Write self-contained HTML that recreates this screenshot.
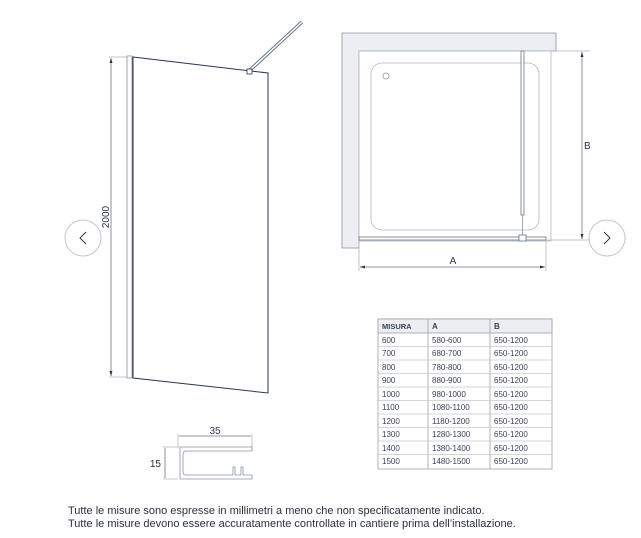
<!DOCTYPE html>
<html><head><style>body{margin:0;background:#fff;}svg{display:block}</style></head><body>
<svg width="641" height="538" viewBox="0 0 641 538" xmlns="http://www.w3.org/2000/svg" font-family="Liberation Sans, sans-serif">
<!-- left nav -->
<circle cx="83" cy="238" r="18" fill="#fff" stroke="#c4c7cf"/>
<polyline points="86,232 80,238 86,244" fill="none" stroke="#2a3550" stroke-width="1"/>
<circle cx="607" cy="238" r="18" fill="#fff" stroke="#c4c7cf"/>
<polyline points="604,232 610,238 604,244" fill="none" stroke="#2a3550" stroke-width="1"/>
<!-- height dim -->
<line x1="109" y1="57" x2="127" y2="57" stroke="#b0b5c2" stroke-width="0.8"/>
<line x1="109" y1="377" x2="127" y2="377" stroke="#b0b5c2" stroke-width="0.8"/>
<line x1="111" y1="58" x2="111" y2="376" stroke="#6a7388" stroke-width="0.8"/>
<polygon points="111,58 109.5,63 112.5,63" fill="#2a3550"/>
<polygon points="111,376 109.5,371 112.5,371" fill="#2a3550"/>
<text x="109" y="217" font-size="10" fill="#2a3550" transform="rotate(-90 109 217)" text-anchor="middle">2000</text>
<!-- profile strip -->
<rect x="127" y="56" width="5" height="322" fill="#fff" stroke="#8a91a3" stroke-width="0.8"/>
<line x1="133" y1="57" x2="133" y2="378" stroke="#2a3550" stroke-width="1.4"/>
<!-- glass -->
<polygon points="133,57 268,73 268,393 133,378" fill="#fff" stroke="#2a3550" stroke-width="1"/>
<!-- rod -->
<line x1="250" y1="70" x2="302" y2="22" stroke="#6a7388" stroke-width="3.5"/>
<line x1="250" y1="70" x2="302" y2="22" stroke="#fff" stroke-width="1.5"/>
<rect x="247" y="69" width="5" height="5" fill="#fff" stroke="#2a3550" stroke-width="0.8"/>
<!-- plan view -->
<path d="M342,33 H556 V51 H359 V248 H342 Z" fill="#eceef2" stroke="#8a91a3" stroke-width="0.8"/>
<rect x="359" y="51" width="192" height="190" fill="#fff" stroke="#b0b5c2" stroke-width="0.8"/>
<rect x="371" y="63" width="168" height="167" rx="11" fill="none" stroke="#b0b5c2" stroke-width="0.8"/>
<circle cx="386" cy="76" r="3" fill="none" stroke="#8a91a3" stroke-width="0.8"/>
<rect x="521" y="51" width="3" height="164" fill="#fff" stroke="#6a7388" stroke-width="0.8"/>
<line x1="522.5" y1="215" x2="522.5" y2="237" stroke="#8a91a3" stroke-width="0.8"/>
<rect x="359" y="237" width="187" height="3" fill="#fff" stroke="#6a7388" stroke-width="0.8"/>
<rect x="519" y="235" width="7" height="6" fill="#fff" stroke="#6a7388" stroke-width="0.8"/>
<line x1="556" y1="51" x2="590" y2="51" stroke="#b0b5c2" stroke-width="0.8"/>
<line x1="546" y1="240" x2="590" y2="240" stroke="#b0b5c2" stroke-width="0.8"/>
<line x1="582" y1="52" x2="582" y2="239" stroke="#6a7388" stroke-width="0.8"/>
<polygon points="582,52 580.5,57 583.5,57" fill="#2a3550"/>
<polygon points="582,239 580.5,234 583.5,234" fill="#2a3550"/>
<text x="584" y="149" font-size="10" fill="#2a3550">B</text>
<line x1="359" y1="241" x2="359" y2="271" stroke="#b0b5c2" stroke-width="0.8"/>
<line x1="546" y1="241" x2="546" y2="271" stroke="#b0b5c2" stroke-width="0.8"/>
<line x1="360" y1="267" x2="545" y2="267" stroke="#6a7388" stroke-width="0.8"/>
<polygon points="360,267 365,265.5 365,268.5" fill="#2a3550"/>
<polygon points="545,267 540,265.5 540,268.5" fill="#2a3550"/>
<text x="453" y="264" font-size="10" fill="#2a3550" text-anchor="middle">A</text>
<!-- profile -->
<line x1="178" y1="434" x2="178" y2="448" stroke="#b0b5c2" stroke-width="0.8"/>
<line x1="252" y1="434" x2="252" y2="448" stroke="#b0b5c2" stroke-width="0.8"/>
<line x1="179" y1="436" x2="251" y2="436" stroke="#6a7388" stroke-width="0.8"/>
<text x="215" y="434" font-size="10" fill="#2a3550" text-anchor="middle">35</text>
<line x1="163" y1="447" x2="178" y2="447" stroke="#b0b5c2" stroke-width="0.8"/>
<line x1="163" y1="479" x2="178" y2="479" stroke="#b0b5c2" stroke-width="0.8"/>
<line x1="165" y1="448" x2="165" y2="478" stroke="#6a7388" stroke-width="0.8"/>
<text x="161" y="467" font-size="10" fill="#2a3550" text-anchor="end">15</text>
<path d="M180,447 H252 V451 H186 Q183,451 183,455 V472 Q183,475 186,475 H233 V467 H235 V475 H241 V467 H243 V475 H252 V479 H180 Z" fill="#fff" stroke="#8a91a3" stroke-width="0.8"/>
<!-- table -->
<g font-size="8" fill="#3a4258">
<rect x="378" y="319" width="174" height="150" fill="#fff" stroke="#9aa0ae" stroke-width="0.8"/>
<rect x="378" y="319" width="174" height="14" fill="#eceef2" stroke="#9aa0ae" stroke-width="0.8"/>
<line x1="428" y1="319" x2="428" y2="469" stroke="#9aa0ae" stroke-width="0.8"/>
<line x1="490" y1="319" x2="490" y2="469" stroke="#9aa0ae" stroke-width="0.8"/>
<g stroke="#c4c7cf" stroke-width="0.8">
<line x1="378" y1="346.5" x2="552" y2="346.5"/><line x1="378" y1="360" x2="552" y2="360"/>
<line x1="378" y1="373.5" x2="552" y2="373.5"/><line x1="378" y1="387" x2="552" y2="387"/>
<line x1="378" y1="400.5" x2="552" y2="400.5"/><line x1="378" y1="414" x2="552" y2="414"/>
<line x1="378" y1="427.5" x2="552" y2="427.5"/><line x1="378" y1="441" x2="552" y2="441"/>
<line x1="378" y1="454.5" x2="552" y2="454.5"/></g>
<text x="382" y="329" font-weight="bold" font-size="7.5">MISURA</text><text x="432" y="329" font-weight="bold">A</text><text x="494" y="329" font-weight="bold">B</text>
<text x="382" y="343">600</text><text x="432" y="343">580-600</text><text x="494" y="343">650-1200</text>
<text x="382" y="356">700</text><text x="432" y="356">680-700</text><text x="494" y="356">650-1200</text>
<text x="382" y="370">800</text><text x="432" y="370">780-800</text><text x="494" y="370">650-1200</text>
<text x="382" y="383">900</text><text x="432" y="383">880-900</text><text x="494" y="383">650-1200</text>
<text x="382" y="397">1000</text><text x="432" y="397">980-1000</text><text x="494" y="397">650-1200</text>
<text x="382" y="410">1100</text><text x="432" y="410">1080-1100</text><text x="494" y="410">650-1200</text>
<text x="382" y="424">1200</text><text x="432" y="424">1180-1200</text><text x="494" y="424">650-1200</text>
<text x="382" y="437">1300</text><text x="432" y="437">1280-1300</text><text x="494" y="437">650-1200</text>
<text x="382" y="451">1400</text><text x="432" y="451">1380-1400</text><text x="494" y="451">650-1200</text>
<text x="382" y="464">1500</text><text x="432" y="464">1480-1500</text><text x="494" y="464">650-1200</text>
</g>
<text x="68" y="514" font-size="11" fill="#2a3040">Tutte le misure sono espresse in millimetri a meno che non specificatamente indicato.</text>
<text x="68" y="527" font-size="11" fill="#2a3040">Tutte le misure devono essere accuratamente controllate in cantiere prima dell’installazione.</text>
</svg>
</body></html>
